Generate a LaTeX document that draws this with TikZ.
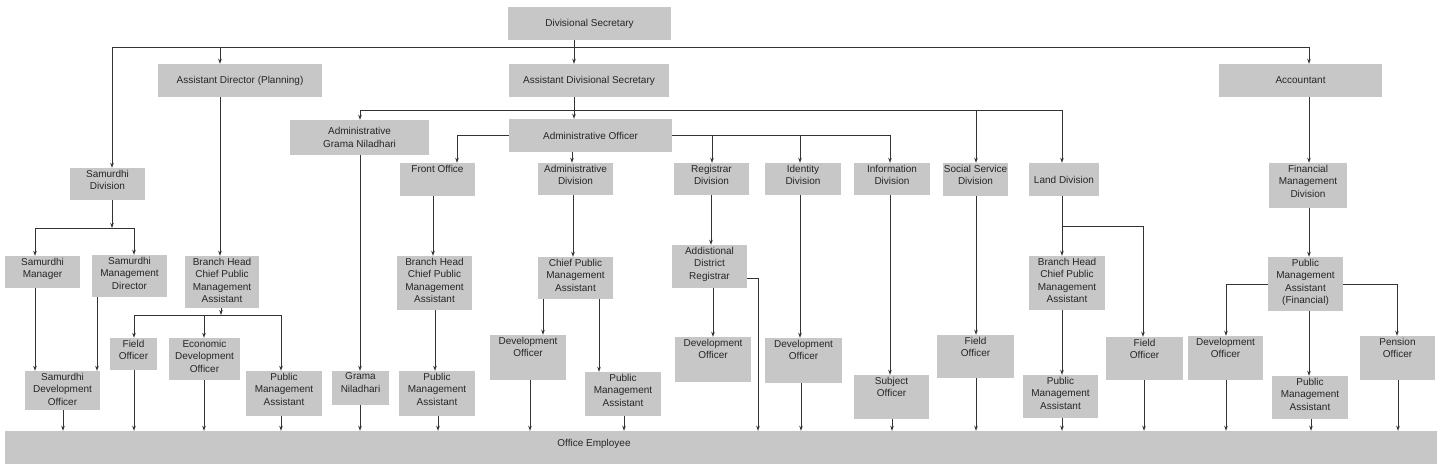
\documentclass[tikz,border=0pt]{standalone}
\usepackage{fontspec}
\setmainfont{Liberation Sans}
\usetikzlibrary{fit,arrows.meta}
\newcommand\bx[6]{\path (#2,#3) coordinate (#1-nw) (#4,#5) coordinate (#1-se);
 \node[box,fit=(#1-nw)(#1-se)] (#1) {};
 \node[lbl,anchor=north] at (#1.north) {#6};}
\newcommand\bxc[6]{\path (#2,#3) coordinate (#1-nw) (#4,#5) coordinate (#1-se);
 \node[box,fit=(#1-nw)(#1-se)] (#1) {};
 \node[lbl] at (#1.center) {#6};}
\newcommand\dn[3]{\draw[arr] (#1.south -| #3,0) -- (#2.north -| #3,0);}
\begin{document}
\begin{tikzpicture}[x=1pt,y=-1pt,
 box/.style={fill=black!22,draw=none,inner sep=0pt},
 lbl/.style={font=\fontsize{10}{12.5}\selectfont,align=center,inner sep=2pt,text=black!85},
 arr/.style={draw=black!80,line width=0.8pt,-{Stealth[length=5pt,width=3.5pt]}},
 ln/.style={draw=black!80,line width=0.8pt}]
\useasboundingbox (0,0) rectangle (1442,474);
\bxc{ds}{508}{7}{671}{40}{Divisional Secretary}
\bxc{adp}{158}{64}{322}{97}{Assistant Director (Planning)}
\bxc{ads}{509}{64}{669}{97}{Assistant Divisional Secretary}
\bxc{acc}{1219}{64}{1382}{97}{Accountant}
\bx{sd}{70}{168}{145}{200}{Samurdhi\\Division}
\bx{sm}{5}{256}{80}{288}{Samurdhi\\Manager}
\bx{smd}{92}{255}{167}{297}{Samurdhi\\Management\\Director}
\bx{sdo}{25}{371}{100}{410}{Samurdhi\\Development\\Officer}
\bx{bh1}{185}{256}{259}{308}{Branch Head\\Chief Public\\Management\\Assistant}
\bx{fo1}{110}{338}{157}{370}{Field\\Officer}
\bx{edo}{169}{338}{240}{380}{Economic\\Development\\Officer}
\bx{pma1}{246}{371}{322}{416}{Public\\Management\\Assistant}
\bxc{agn}{290}{120}{429}{155}{Administrative\\Grama Niladhari}
\bx{gn}{332}{371}{389}{405}{Grama\\Niladhari}
\bxc{ao}{509}{119}{672}{152}{Administrative Officer}
\bx{fro}{400}{163}{475}{196}{Front Office}
\bx{bh2}{397}{256}{472}{310}{Branch Head\\Chief Public\\Management\\Assistant}
\bx{pma2}{399}{371}{475}{416}{Public\\Management\\Assistant}
\bx{adv}{538}{163}{613}{195}{Administrative\\Division}
\bx{cpma}{538}{257}{613}{299}{Chief Public\\Management\\Assistant}
\bx{do1}{490}{335}{566}{380}{Development\\Officer}
\bx{pma3}{585}{372}{661}{416}{Public\\Management\\Assistant}
\bx{rd}{674}{163}{749}{195}{Registrar\\Division}
\bx{adr}{672}{245}{747}{288}{Addistional\\District\\Registrar}
\bx{do2}{675}{337}{751}{382}{Development\\Officer}
\bx{idd}{765}{163}{841}{195}{Identity\\Division}
\bx{do3}{765}{338}{842}{383}{Development\\Officer}
\bx{ind}{854}{163}{930}{195}{Information\\Division}
\bx{so}{854}{375}{929}{419}{Subject\\Officer}
\bx{ssd}{943}{163}{1008}{196}{Social Service\\Division}
\bx{fo2}{937}{335}{1014}{378}{Field\\Officer}
\bxc{ld}{1029}{163}{1099}{196}{Land Division}
\bx{bh3}{1029}{256}{1105}{310}{Branch Head\\Chief Public\\Management\\Assistant}
\bx{pma4}{1023}{375}{1098}{418}{Public\\Management\\Assistant}
\bx{fo3}{1106}{337}{1183}{380}{Field\\Officer}
\bx{fmd}{1269}{163}{1347}{208}{Financial\\Management\\Division}
\bx{pmaf}{1268}{257}{1343}{311}{Public\\Management\\Assistant\\(Financial)}
\bx{do4}{1188}{336}{1263}{380}{Development\\Officer}
\bx{pma5}{1272}{376}{1348}{419}{Public\\Management\\Assistant}
\bx{po}{1360}{336}{1435}{380}{Pension\\Officer}
\bxc{oe}{5}{431}{1437}{464}{}
\node[lbl] (oet) at (594,444) {Office Employee};
% top level
\coordinate (j0) at (574,47);
\draw[ln] (ds.south -| j0) -- (j0);
\draw[ln] (112,47) -- (1309,47);
\draw[arr] (j0 -| 112,0) -- (sd.north -| 112,0);
\draw[arr] (j0 -| 220,0) -- (adp.north -| 220,0);
\draw[arr] (j0) -- (ads.north -| j0);
\draw[arr] (j0 -| 1309,0) -- (acc.north -| 1309,0);
% samurdhi
\coordinate (j1) at (112,228);
\draw[arr] (sd.south -| j1) -- (j1);
\draw[ln] (35,228) -- (134,228);
\draw[arr] (j1 -| 35,0) -- (sm.north -| 35,0);
\draw[arr] (j1 -| 134,0) -- (smd.north -| 134,0);
\dn{sm}{sdo}{35}
\dn{smd}{sdo}{97}
% planning
\dn{adp}{bh1}{220}
\coordinate (j2) at (221,315);
\draw[arr] (bh1.south -| j2) -- (j2);
\draw[ln] (134,315) -- (281,315);
\draw[arr] (j2 -| 134,0) -- (fo1.north -| 134,0);
\draw[arr] (j2 -| 204,0) -- (edo.north -| 204,0);
\draw[arr] (j2 -| 281,0) -- (pma1.north -| 281,0);
% ADS
\coordinate (j3) at (574,110);
\draw[ln] (ads.south -| j3) -- (j3);
\draw[ln] (360,110) -- (1062,110);
\draw[arr] (j3 -| 360,0) -- (agn.north -| 360,0);
\draw[arr] (j3) -- (ao.north -| j3);
\draw[arr] (j3 -| 976,0) -- (ssd.north -| 976,0);
\draw[arr] (j3 -| 1062,0) -- (ld.north -| 1062,0);
\dn{agn}{gn}{360}
% AO
\draw[ln] (ao.west |- 0,135) -| (457,135);
\draw[arr] (457,135) -- (fro.north -| 457,0);
\draw[ln] (ao.east |- 0,135) -- (890,135);
\draw[arr] (712,135) -- (rd.north -| 712,0);
\draw[arr] (800,135) -- (idd.north -| 800,0);
\draw[arr] (890,135) -- (ind.north -| 890,0);
\dn{ao}{adv}{572}
\dn{fro}{bh2}{433}
\dn{bh2}{pma2}{435}
\dn{adv}{cpma}{573}
\dn{cpma}{do1}{543}
\dn{cpma}{pma3}{599}
\dn{rd}{adr}{711}
\dn{adr}{do2}{713}
\draw[arr] (adr.east |- 0,278) -| (oe.north -| 758,0);
\dn{idd}{do3}{800}
\dn{ind}{so}{890}
\dn{ssd}{fo2}{976}
\dn{ld}{bh3}{1062}
\draw[arr] (1062,226) -| (fo3.north -| 1143,0);
\dn{bh3}{pma4}{1062}
% accountant
\dn{acc}{fmd}{1309}
\dn{fmd}{pmaf}{1309}
\draw[arr] (pmaf.west |- 0,284) -| (do4.north -| 1226,0);
\draw[arr] (pmaf.east |- 0,284) -| (po.north -| 1397,0);
\dn{pmaf}{pma5}{1309}
% to office employee
\dn{sdo}{oe}{63}
\dn{fo1}{oe}{134}
\dn{edo}{oe}{204}
\dn{pma1}{oe}{281}
\dn{gn}{oe}{360}
\dn{pma2}{oe}{438}
\dn{do1}{oe}{530}
\dn{pma3}{oe}{624}
\dn{do3}{oe}{801}
\dn{so}{oe}{892}
\dn{fo2}{oe}{976}
\dn{pma4}{oe}{1062}
\dn{fo3}{oe}{1144}
\dn{do4}{oe}{1226}
\dn{pma5}{oe}{1311}
\dn{po}{oe}{1398}
\end{tikzpicture}
\end{document}
